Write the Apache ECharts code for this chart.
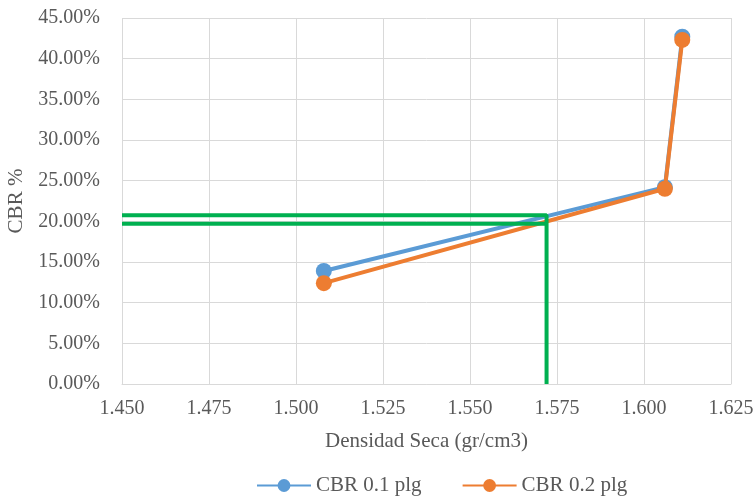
<!DOCTYPE html>
<html>
<head>
<meta charset="utf-8">
<script src="https://cdn.jsdelivr.net/npm/echarts@6/dist/echarts.min.js"></script>
<style>
  html, body { margin: 0; padding: 0; background: #fff; }
  #chart { width: 756px; height: 496px; }
</style>
</head>
<body>
<div id="chart"></div>
<script>
// Dry density (gr/cm3) and CBR values (%)
const densidad = [1.508, 1.606, 1.611];
const cbr01 = [13.9, 24.2, 42.7];
const cbr02 = [12.4, 24.0, 42.3];
const seriesNames = ['CBR 0.1 plg', 'CBR 0.2 plg'];

// Design reading: density at which CBR is read, and the two CBR levels
const densidadDiseno = 1.572;
const cbrDiseno01 = 20.75;
const cbrDiseno02 = 19.7;

const xMin = 1.45, xMax = 1.625, xStep = 0.025;
const yMin = 0, yMax = 45, yStep = 5;

const font = '"Liberation Serif", "Times New Roman", serif';
const textColor = '#595959';
const gridColor = '#d9d9d9';

const pairs = (xs, ys) => xs.map((x, i) => [x, ys[i]]);

const chart = echarts.init(document.getElementById('chart'));
chart.setOption({
  animation: false,
  textStyle: { fontFamily: font },
  grid: { left: 122, right: 25, top: 18, bottom: 112, containLabel: false, outerBoundsMode: 'none' },
  xAxis: {
    type: 'value',
    min: xMin, max: xMax, interval: xStep,
    name: 'Densidad Seca (gr/cm3)',
    nameLocation: 'middle',
    nameGap: 47,
    nameTextStyle: { fontFamily: font, fontSize: 21, color: textColor },
    axisLine: { show: true, lineStyle: { color: gridColor, width: 1 } },
    axisTick: { show: false },
    axisLabel: { fontFamily: font, fontSize: 20, color: textColor, margin: 15,
      formatter: v => v.toFixed(3) },
    splitLine: { show: true, lineStyle: { color: gridColor, width: 1 } }
  },
  yAxis: {
    type: 'value',
    min: yMin, max: yMax, interval: yStep,
    name: 'CBR %',
    nameLocation: 'middle',
    nameGap: 92,
    nameRotate: 90,
    nameTextStyle: { fontFamily: font, fontSize: 21, color: textColor },
    axisLine: { show: false },
    axisTick: { show: false },
    axisLabel: { fontFamily: font, fontSize: 20, color: textColor, margin: 22,
      formatter: v => v.toFixed(2) + '%' },
    splitLine: { show: true, lineStyle: { color: gridColor, width: 1 } }
  },
  legend: {
    data: seriesNames,
    bottom: -5,
    left: 251,
    itemWidth: 54,
    itemHeight: 16,
    itemGap: 40,
    textStyle: { fontFamily: font, fontSize: 21, color: textColor }
  },
  series: [
    {
      name: seriesNames[0],
      type: 'line',
      data: pairs(densidad, cbr01),
      symbol: 'circle',
      symbolSize: 16,
      lineStyle: { color: '#5b9bd5', width: 4 },
      itemStyle: { color: '#5b9bd5' },
      z: 3
    },
    {
      name: seriesNames[1],
      type: 'line',
      data: pairs(densidad, cbr02),
      symbol: 'circle',
      symbolSize: 16,
      lineStyle: { color: '#ed7d31', width: 4 },
      itemStyle: { color: '#ed7d31' },
      z: 4
    },
    {
      name: 'lectura01',
      type: 'line',
      data: [[xMin, cbrDiseno01], [densidadDiseno, cbrDiseno01], [densidadDiseno, yMin]],
      symbol: 'none',
      lineStyle: { color: '#00b050', width: 4 },
      z: 5
    },
    {
      name: 'lectura02',
      type: 'line',
      data: [[xMin, cbrDiseno02], [densidadDiseno, cbrDiseno02]],
      symbol: 'none',
      lineStyle: { color: '#00b050', width: 4 },
      z: 5
    }
  ]
});
</script>
</body>
</html>
